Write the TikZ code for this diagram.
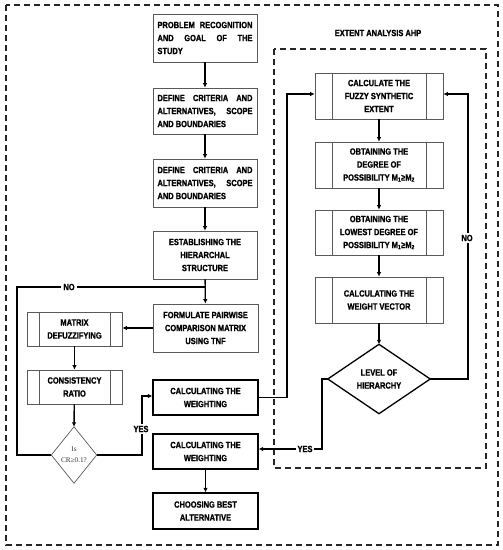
\documentclass[tikz,border=0pt]{standalone}
\usepackage{fontspec}
\setmainfont{Liberation Sans}[FakeStretch=0.83,FakeBold=1.2]
\newfontfamily\serifsmall{Liberation Serif}
\usetikzlibrary{arrows.meta,calc}
\hyphenpenalty=10000
\exhyphenpenalty=10000
\tikzset{
  txt/.style={font=\fontsize{9}{13}\selectfont\bfseries},
  thinbox/.style={txt,draw=black!65,line width=0.7pt,inner sep=0pt,align=center},
  justbox/.style={thinbox,align=justify,text width=95pt},
  thickbox/.style={txt,draw=black,line width=1.3pt,inner sep=0pt,align=center},
  procbox/.style={thinbox,path picture={
      \draw[black!65,line width=0.7pt]
        ([xshift=#1]path picture bounding box.north west) -- ([xshift=#1]path picture bounding box.south west)
        ([xshift=-#1]path picture bounding box.north east) -- ([xshift=-#1]path picture bounding box.south east);}},
  procbox/.default=12pt,
  conn/.style={line width=1.4pt,-{Latex[length=4.5pt,width=4.5pt]}},
  plain/.style={line width=1.4pt},
  dashbox/.style={line width=1.1pt,dash pattern=on 6pt off 4pt,black!85},
  lbl/.style={txt,fill=white,inner sep=2pt},
}
\begin{document}
\begin{tikzpicture}[x=1pt,y=-1pt]
\useasboundingbox (0,0) rectangle (503,550);
\draw[dashbox] (6,5) rectangle (498,545);
\draw[dashbox] (274,49) rectangle (486,468);
\node[txt] (title) at (378,33) {EXTENT ANALYSIS AHP};

% main column
\node[justbox,minimum width=104pt,minimum height=48pt] (b1) at (205,38)
  {PROBLEM RECOGNITION AND GOAL OF THE\linebreak STUDY};
\node[justbox,minimum width=104pt,minimum height=46pt] (b2) at (205,111)
  {DEFINE CRITERIA AND ALTERNATIVES, SCOPE AND BOUNDARIES};
\node[justbox,minimum width=104pt,minimum height=48pt] (b3) at (205,183)
  {DEFINE CRITERIA AND ALTERNATIVES, SCOPE AND BOUNDARIES};
\node[thinbox,minimum width=104pt,minimum height=48pt] (b4) at (205,255)
  {ESTABLISHING THE\\HIERARCHAL\\STRUCTURE};
\node[thinbox,minimum width=105pt,minimum height=48pt] (form) at (205.5,328)
  {FORMULATE PAIRWISE\\COMPARISON MATRIX\\USING TNF};
\node[thickbox,minimum width=105pt,minimum height=35pt] (w1) at (205.5,397.5)
  {CALCULATING THE\\WEIGHTING};
\node[thickbox,minimum width=105pt,minimum height=35pt] (w2) at (205.5,451.5)
  {CALCULATING THE\\WEIGHTING};
\node[thickbox,minimum width=105pt,minimum height=36pt] (best) at (205.5,511)
  {CHOOSING BEST\\ALTERNATIVE};

% left column
\node[procbox,minimum width=95pt,minimum height=34pt] (mdef) at (74.5,329)
  {MATRIX\\DEFUZZIFYING};
\node[procbox,minimum width=95pt,minimum height=34pt] (cons) at (74.5,387)
  {CONSISTENCY\\RATIO};
\node[inner sep=0pt,minimum width=45pt,minimum height=56pt,align=center,
  font=\serifsmall\fontsize{7.2}{11}\selectfont,text=black!80] (d1) at (74,455)
  {Is\\CR≥0.1?};
\draw[black!65,line width=0.7pt] (d1.north) -- (d1.east) -- (d1.south) -- (d1.west) -- cycle;

% right column
\node[procbox=17pt,minimum width=128pt,minimum height=46pt] (fz) at (379,96)
  {CALCULATE THE\\FUZZY SYNTHETIC\\EXTENT};
\node[procbox=17pt,minimum width=128pt,minimum height=46pt] (deg) at (379,165)
  {OBTAINING THE\\DEGREE OF\\POSSIBILITY M\textsubscript{1}≥M\textsubscript{2}};
\node[procbox=17pt,minimum width=128pt,minimum height=45pt] (low) at (379,232.5)
  {OBTAINING THE\\LOWEST DEGREE OF\\POSSIBILITY M\textsubscript{1}≥M\textsubscript{2}};
\node[procbox=17pt,minimum width=128pt,minimum height=46pt] (vec) at (379,300)
  {CALCULATING THE\\WEIGHT VECTOR};
\node[txt,inner sep=0pt,minimum width=102pt,minimum height=69pt,align=center] (lvl) at (379,379)
  {LEVEL OF\\HIERARCHY};
\draw[black,line width=1.3pt] (lvl.north) -- (lvl.east) -- (lvl.south) -- (lvl.west) -- cycle;

% junction points
\coordinate (j1) at (287,94);
\coordinate (j2) at (468,94);
\coordinate (j3) at (322,449);
\coordinate (j4) at (142,396);
\coordinate (j5) at (17,287);

% connectors main column
\draw[conn] (b1) -- (b2);
\draw[conn] (b2) -- (b3);
\draw[conn] (b3) -- (b4);
\draw[conn] (b4) -- (form);
\draw[conn] (form.west) -- (form.west -| mdef.east);
\draw[conn] (mdef) -- (cons);
\draw[conn] (cons) -- (d1.north);
\draw[conn] (w2) -- (best);
\draw[plain] (d1.west) -| (j5) -- (j5 -| b4.south);
\draw[conn] (d1.east) -| (j4) -- (j4 -| w1.west);
\draw[conn] (w1.east) -| (j1) -- (j1 -| fz.west);

% connectors right column
\draw[conn] (fz) -- (deg);
\draw[conn] (deg) -- (low);
\draw[conn] (low) -- (vec);
\draw[conn] (vec.south) -- (lvl.north);
\draw[conn] (lvl.east) -| (j2) -- (j2 -| fz.east);
\draw[conn] (lvl.west) -| (j3) -- (j3 -| w2.east);

% labels
\node[lbl] (no1) at (69,287) {NO};
\node[lbl] (yes1) at (141,429) {YES};
\node[lbl] (no2) at (467,238) {NO};
\node[lbl] (yes2) at (305,449) {YES};
\end{tikzpicture}
\end{document}
